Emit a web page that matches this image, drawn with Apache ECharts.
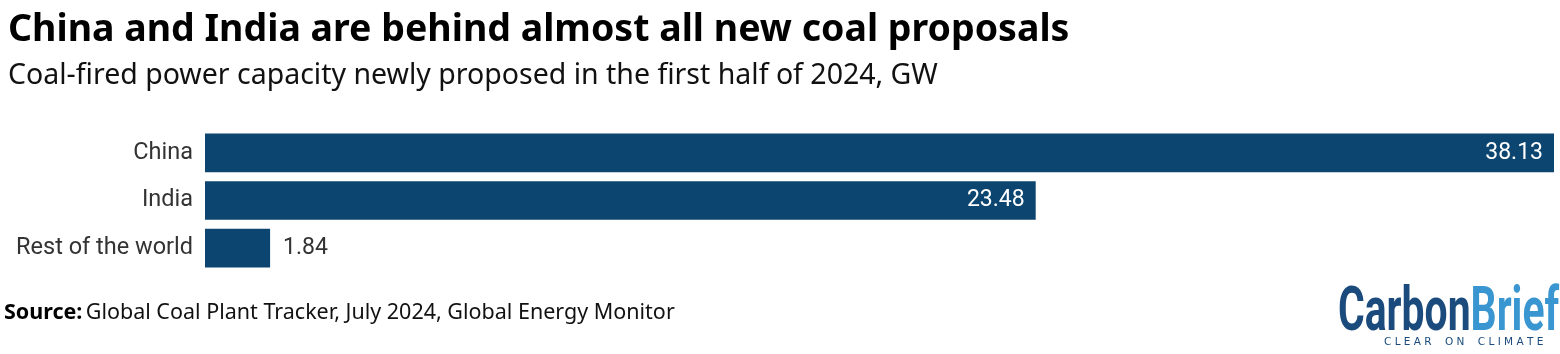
<!DOCTYPE html>
<html>
<head>
<meta charset="utf-8">
<script src="https://cdn.jsdelivr.net/npm/echarts@6/dist/echarts.min.js"></script>
<style>
	html, body { margin: 0; padding: 0; background: #fff; }
	#chart { width: 1560px; height: 354px; }
</style>
</head>
<body>
<div id="chart"></div>
<script>
var regions = ['China', 'India', 'Rest of the world'];
var capacity = [38.13, 23.48, 1.84];

var chartDom = document.getElementById('chart');
var myChart = echarts.init(chartDom);

var option = {
	animation: false,
	title: [{
		text: 'China and India are behind almost all new coal proposals',
		left: 3,
		top: 6,
		textStyle: {
			fontFamily: 'Noto Sans',
			fontWeight: 'bold',
			fontSize: 37.5,
			color: '#000'
		}
	}, {
		text: 'Coal-fired power capacity newly proposed in the first half of 2024, GW',
		left: 3,
		top: 56,
		textStyle: {
			fontFamily: 'Noto Sans',
			fontWeight: 'normal',
			fontSize: 28.5,
			color: '#111'
		}
	}],
	grid: {
		left: 205,
		right: 6,
		top: 129,
		height: 143,
		containLabel: false
	},
	xAxis: {
		type: 'value',
		min: 0,
		max: 38.13,
		show: false
	},
	yAxis: {
		type: 'category',
		data: regions,
		inverse: true,
		axisLine: { show: false },
		axisTick: { show: false },
		axisLabel: {
			margin: 12,
			fontFamily: 'Roboto',
			fontSize: 23.5,
			color: '#333'
		}
	},
	series: [{
		type: 'bar',
		data: capacity.map(function (v, i) {
			var inside = i < 2;
			return {
				value: v,
				label: inside ? {
					position: 'insideRight',
					distance: 11,
					color: '#fff'
				} : {
					position: 'right',
					distance: 13,
					color: '#333'
				}
			};
		}),
		barCategoryGap: '19%',
		itemStyle: { color: '#0c4670' },
		label: {
			show: true,
			fontFamily: 'Roboto',
			fontSize: 23,
			formatter: function (p) { return p.value.toFixed(2); }
		}
	}],
	graphic: [{
		type: 'text',
		left: 4,
		top: 302,
		style: {
			rich: {
				b: { fontFamily: 'Noto Sans', fontWeight: 'bold', fontSize: 21.5, fill: '#000' },
				n: { fontFamily: 'Noto Sans', fontSize: 21.5, fill: '#111' }
			},
			text: '{b|Source:} {n|Global Coal Plant Tracker, July 2024, Global Energy Monitor}'
		}
	}, {
		type: 'text',
		x: 1338,
		y: 284,
		scaleX: 0.67,
		style: {
			rich: {
				c: { fontFamily: 'Roboto', fontWeight: 'bold', fontSize: 61, fill: '#1a4b7c' },
				r: { fontFamily: 'Roboto', fontWeight: 'bold', fontSize: 61, fill: '#3a96d0' }
			},
			text: '{c|Carbon}{r|Brief}'
		}
	}, {
		type: 'text',
		x: 1384,
		y: 337,
		style: {
			text: 'C L E A R    O N    C L I M A T E',
			fontFamily: 'DejaVu Sans',
			fontSize: 10.5,
			fill: '#1a4b7c'
		}
	}]
};

myChart.setOption(option);
</script>
</body>
</html>
